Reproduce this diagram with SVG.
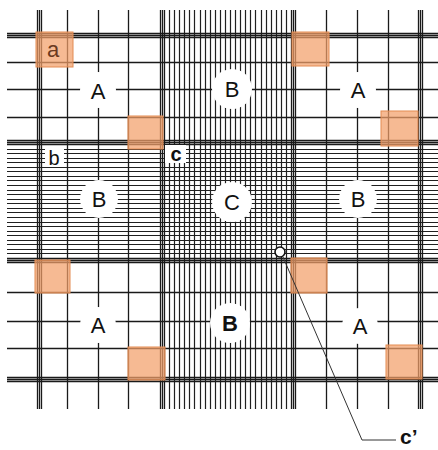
<svg xmlns="http://www.w3.org/2000/svg" width="438" height="450" viewBox="0 0 438 450">
<style>
.ln{stroke:#1a1a1a;stroke-width:1.3;fill:none}
.fn{stroke:#202020;stroke-width:1.2;fill:none}
.sq{fill:#f2a06a;fill-opacity:0.72;stroke:#e38b52;stroke-width:1}
.bg{fill:#fff}
.lb{font-family:"Liberation Sans",Arial,sans-serif;font-size:22px;fill:#111;text-anchor:middle}
.sm{font-family:"Liberation Sans",Arial,sans-serif;font-size:20px;fill:#111;text-anchor:middle}
</style>
<rect width="438" height="450" fill="#fff"/>
<g id="grid">
<path class="fn" d="M169.5 10V409M174.5 10V409M179.5 10V409M184.5 10V409M189.5 10V409M194.5 10V409M200.5 10V409M205.5 10V409M210.5 10V409M215.5 10V409M220.5 10V409M225.5 10V409M230.5 10V409M235.5 10V409M240.5 10V409M245.5 10V409M250.5 10V409M255.5 10V409M261.5 10V409M266.5 10V409M271.5 10V409M276.5 10V409M281.5 10V409M286.5 10V409"/>
<path class="fn" d="M7 149.5H438M7 153.5H438M7 158.5H438M7 162.5H438M7 167.5H438M7 171.5H438M7 176.5H438M7 180.5H438M7 185.5H438M7 190.5H438M7 194.5H438M7 199.5H438M7 203.5H438M7 208.5H438M7 212.5H438M7 217.5H438M7 222.5H438M7 226.5H438M7 231.5H438M7 235.5H438M7 240.5H438M7 244.5H438M7 249.5H438M7 253.5H438"/>
<path class="ln" d="M37.5 10V409M39.5 10V409M41.5 10V409M67.5 10V409M98.5 10V409M128.5 10V409M160.5 10V409M162.5 10V409M164.5 10V409M291.5 10V409M293.5 10V409M295.5 10V409M326.5 10V409M357.5 10V409M388.5 10V409M418.5 10V409M420.5 10V409M422.5 10V409"/>
<path class="ln" d="M7 33.5H438M7 35.5H438M7 37.5H438M7 62.5H438M7 89.5H438M7 117.5H438M7 140.5H438M7 142.5H438M7 144.5H438M7 258.5H438M7 260.5H438M7 262.5H438M7 292.5H438M7 321.5H438M7 348.5H438M7 377.5H438M7 379.5H438M7 381.5H438"/>
</g>
<g id="squares">
<rect class="sq" x="36" y="32" width="37" height="35"/>
<rect class="sq" x="292" y="32" width="37" height="34"/>
<rect class="sq" x="381" y="111" width="37" height="35"/>
<rect class="sq" x="128" y="116" width="35" height="33"/>
<rect class="sq" x="35" y="260" width="35" height="33"/>
<rect class="sq" x="291" y="258" width="36" height="35"/>
<rect class="sq" x="128" y="347" width="37" height="33"/>
<rect class="sq" x="386" y="345" width="36" height="34"/>
</g>
<g id="label-backgrounds">
<circle class="bg" cx="98" cy="90" r="18"/>
<circle class="bg" cx="232" cy="89" r="20"/>
<circle class="bg" cx="358" cy="90" r="18"/>
<circle class="bg" cx="99" cy="199" r="19"/>
<circle class="bg" cx="232" cy="202" r="20"/>
<circle class="bg" cx="358" cy="199" r="19"/>
<circle class="bg" cx="98" cy="325" r="18"/>
<circle class="bg" cx="230" cy="323" r="20"/>
<circle class="bg" cx="360" cy="326" r="18"/>
<rect class="bg" x="45" y="147" width="19" height="20"/>
<rect class="bg" x="165" y="145" width="21" height="18"/>
</g>
<g id="labels">
<text class="lb" x="98" y="99">A</text>
<text class="lb" x="232" y="97">B</text>
<text class="lb" x="358" y="98">A</text>
<text class="lb" x="99" y="207">B</text>
<text class="lb" x="232" y="210">C</text>
<text class="lb" x="358" y="207">B</text>
<text class="lb" x="98" y="333">A</text>
<text class="lb" x="230" y="331" font-weight="bold">B</text>
<text class="lb" x="360" y="334">A</text>
<text class="lb" x="53" y="57" style="fill:#6b3a20">a</text>
<text class="sm" x="54" y="165">b</text>
<text class="sm" x="176" y="161" font-weight="bold">c</text>
</g>
<g id="connectors">
<circle cx="280" cy="252" r="5" fill="#fff" stroke="#111" stroke-width="1.6"/>
<path d="M283 257L362 440H396" fill="none" stroke="#333" stroke-width="1"/>
</g>
<g id="callout">
<text x="400" y="444" font-family="Liberation Sans,Arial,sans-serif" font-size="21" font-weight="bold" fill="#111">c’</text>
</g>
</svg>
